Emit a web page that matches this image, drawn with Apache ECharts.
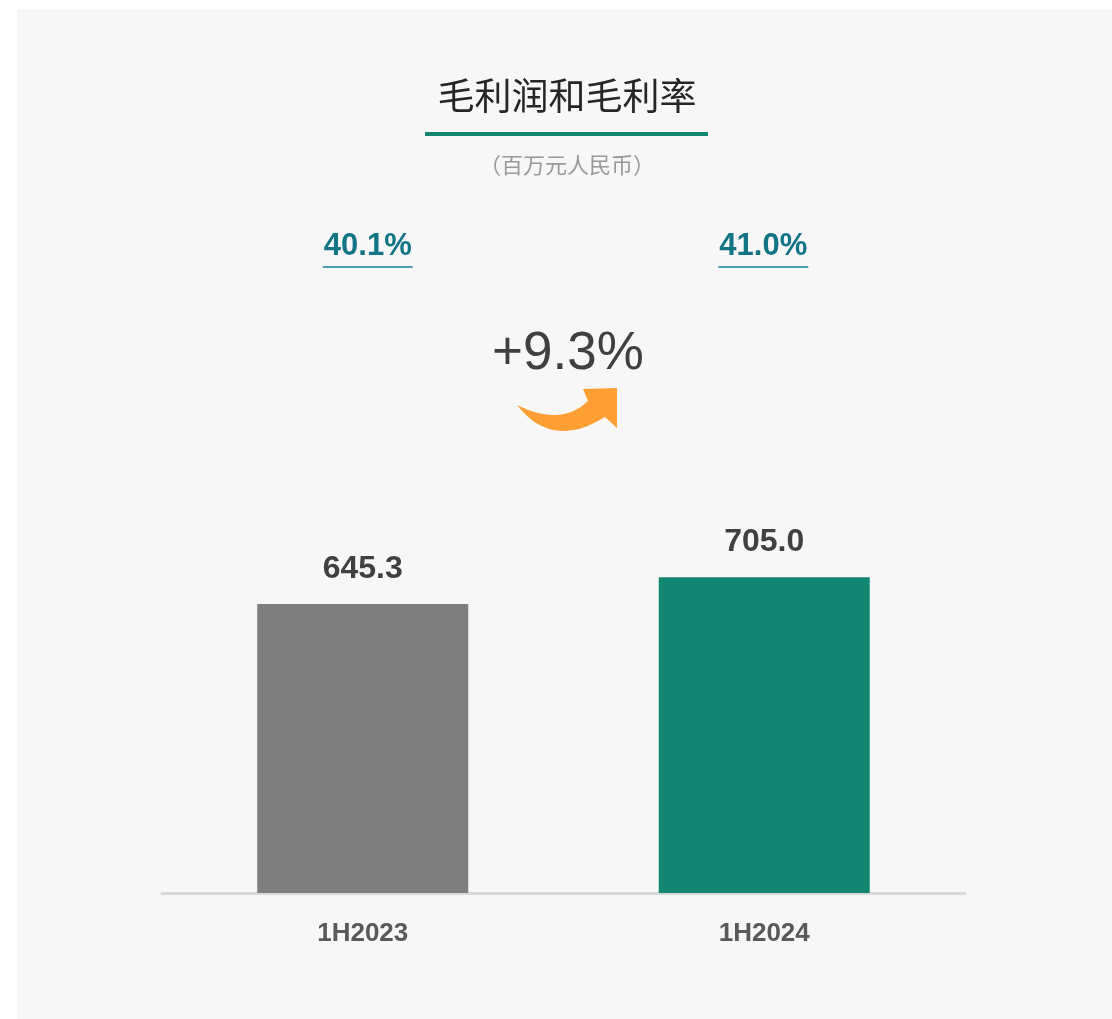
<!DOCTYPE html>
<html>
<head>
<meta charset="utf-8">
<title>毛利润和毛利率</title>
<style>
  html, body { margin: 0; height: 100%; background: #ffffff; }
  #main { width: 1112px; height: 1019px; }
</style>
</head>
<body>
<div id="main"></div>
<script src="https://cdn.jsdelivr.net/npm/echarts@6/dist/echarts.min.js"></script>
<script>
// data
var periods = ['1H2023', '1H2024'];
var grossProfit = [645.3, 705.0];
var grossMargin = ['40.1%', '41.0%'];
var growth = '+9.3%';
var barColors = ['#7f7f7f', '#138672'];

var NUM_FONT = '"Liberation Sans", Arial, Helvetica, sans-serif';
var CJK_FONT = '"Noto Sans CJK SC", "Noto Sans", sans-serif';

// sample a quadratic curve into polygon points (for the curved arrow)
function quad(p0, c, p1, n) {
  var pts = [];
  for (var i = 0; i <= n; i++) {
    var t = i / n, u = 1 - t;
    pts.push([u * u * p0[0] + 2 * u * t * c[0] + t * t * p1[0],
              u * u * p0[1] + 2 * u * t * c[1] + t * t * p1[1]]);
  }
  return pts;
}
var arrowPts = quad([517, 405], [561, 427], [588, 401], 16)
  .concat([[583, 389], [617, 388], [617, 428]])
  .concat(quad([605, 417], [552, 450], [517, 405], 16));

var chart = echarts.init(document.getElementById('main'));

// static decoration: panel, title, subtitle, growth arrow
var baseGraphic = [
  { type: 'rect', z: -10, silent: true,
    shape: { x: 17, y: 9, width: 1095, height: 1010 },
    style: { fill: '#f7f7f7' } },
  { type: 'text', x: 567, y: 96,
    style: { text: '毛利润和毛利率', fill: '#262626', font: '37px ' + CJK_FONT,
             align: 'center', verticalAlign: 'middle' } },
  { type: 'rect', shape: { x: 425, y: 132, width: 283, height: 4 },
    style: { fill: '#138672' } },
  { type: 'text', x: 567, y: 165,
    style: { text: '（百万元人民币）', fill: '#999999', font: '22px ' + CJK_FONT,
             align: 'center', verticalAlign: 'middle' } },
  { type: 'text', x: 568, y: 354,
    style: { text: growth, fill: '#404040', font: '53px ' + NUM_FONT,
             align: 'center', verticalAlign: 'middle' } },
  { type: 'polygon', shape: { points: arrowPts },
    style: { fill: '#ff9f33' } }
];

chart.setOption({
  animation: false,
  backgroundColor: '#ffffff',
  grid: { left: 162, right: 147, top: 445, bottom: 126 },
  xAxis: {
    type: 'category',
    data: periods,
    offset: 2,
    axisLine: { lineStyle: { color: '#d9d9d9', width: 3 } },
    axisTick: { show: false },
    axisLabel: { color: '#595959', fontSize: 26, fontWeight: 'bold',
                 fontFamily: NUM_FONT, margin: 26 }
  },
  yAxis: {
    type: 'value', min: 0, max: 1000, show: false,
    splitLine: { show: false }
  },
  series: [{
    type: 'bar',
    barWidth: 211,
    data: grossProfit.map(function (v, i) {
      return { value: v, itemStyle: { color: barColors[i] } };
    }),
    label: {
      show: true, position: 'top', distance: 19,
      color: '#404040', fontSize: 32, fontWeight: 'bold', fontFamily: NUM_FONT,
      formatter: function (p) { return p.value.toFixed(1); }
    }
  }],
  graphic: baseGraphic
});

// margin labels above each bar, placed on the category centres
var marginGraphic = grossMargin.map(function (txt, i) {
  var cx = chart.convertToPixel({ xAxisIndex: 0 }, periods[i]) + (i === 0 ? 5 : -1);
  return {
    type: 'group',
    children: [
      { type: 'text', x: cx, y: 246,
        style: { text: txt, fill: '#127485', font: 'bold 31px ' + NUM_FONT,
                 align: 'center', verticalAlign: 'middle' } },
      { type: 'rect', shape: { x: cx - 45, y: 266, width: 90, height: 2 },
        style: { fill: '#4a9fb3' } }
    ]
  };
});

chart.setOption({ graphic: baseGraphic.concat(marginGraphic) });
</script>
</body>
</html>
